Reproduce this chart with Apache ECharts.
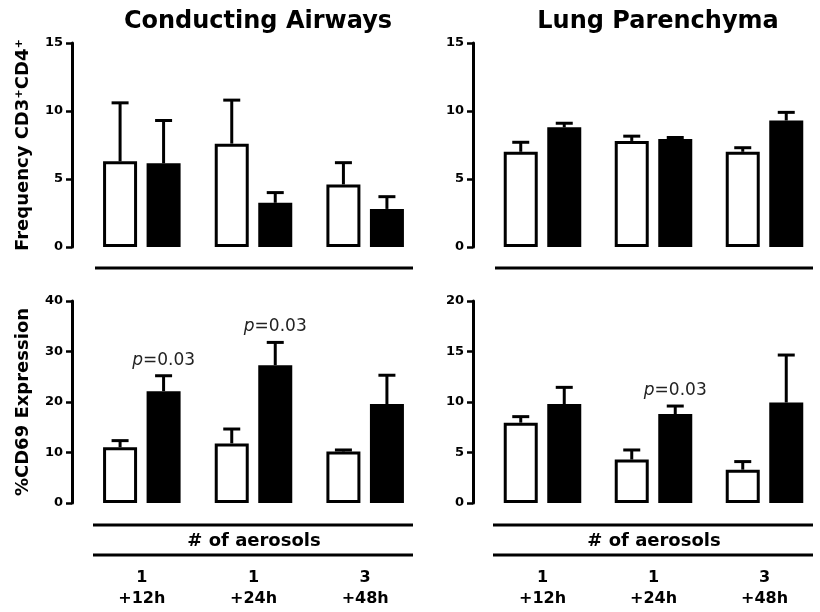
<!DOCTYPE html>
<html>
<head>
<meta charset="utf-8">
<script src="https://cdn.jsdelivr.net/npm/echarts@6/dist/echarts.min.js"></script>
<style>html,body{margin:0;padding:0;background:#fff}#c{width:820px;height:612px}</style>
</head>
<body>
<div id="c"></div>
<script>
// ---- data ----
const categories = ['1\n+12h', '1\n+24h', '3\n+48h'];
const panelTitles = ['Conducting Airways', 'Lung Parenchyma'];
const yNames = ['Frequency CD3\u207ACD4\u207A', '%CD69 Expression'];

const caFreqCtrl = [6.3, 7.6, 4.6];
const caFreqCtrlErr = [10.6, 10.8, 6.2];
const caFreqTrt = [6.15, 3.25, 2.8];
const caFreqTrtErr = [9.3, 4.0, 3.7];

const lpFreqCtrl = [7.0, 7.8, 7.0];
const lpFreqCtrlErr = [7.7, 8.15, 7.3];
const lpFreqTrt = [8.8, 7.95, 9.3];
const lpFreqTrtErr = [9.1, 8.05, 9.9];

const caCD69Ctrl = [11.05, 11.8, 10.2];
const caCD69CtrlErr = [12.35, 14.65, 10.5];
const caCD69Trt = [22.15, 27.3, 19.6];
const caCD69TrtErr = [25.2, 31.8, 25.3];
const caCD69TrtP = ['0.03', '0.03', ''];

const lpCD69Ctrl = [7.95, 4.3, 3.3];
const lpCD69CtrlErr = [8.55, 5.25, 4.1];
const lpCD69Trt = [9.8, 8.8, 9.95];
const lpCD69TrtErr = [11.45, 9.6, 14.65];
const lpCD69TrtP = ['', '0.03', ''];

const yMax = [15, 15, 40, 20];
const yInterval = [5, 5, 10, 5];
const xAxisTitle = '# of aerosols';

// ---- layout ----
const FONT = 'DejaVu Sans';
const grids = [
  {left: 86, top: 43, width: 335, height: 204},
  {left: 487, top: 43, width: 334, height: 204},
  {left: 86, top: 301, width: 335, height: 202},
  {left: 487, top: 301, width: 334, height: 202}
];
const OFF = 21.75;

const panels = [
  {ctrl: caFreqCtrl, ctrlErr: caFreqCtrlErr, trt: caFreqTrt, trtErr: caFreqTrtErr, p: null},
  {ctrl: lpFreqCtrl, ctrlErr: lpFreqCtrlErr, trt: lpFreqTrt, trtErr: lpFreqTrtErr, p: null},
  {ctrl: caCD69Ctrl, ctrlErr: caCD69CtrlErr, trt: caCD69Trt, trtErr: caCD69TrtErr, p: caCD69TrtP},
  {ctrl: lpCD69Ctrl, ctrlErr: lpCD69CtrlErr, trt: lpCD69Trt, trtErr: lpCD69TrtErr, p: lpCD69TrtP}
];

function errSeries(gi, vals, errs, pl, offset) {
  return {
    type: 'custom', xAxisIndex: gi, yAxisIndex: gi, z: 5, clip: false,
    data: vals.map((v, i) => [i, v, errs[i], pl ? pl[i] : '']),
    renderItem: function (params, api) {
      const i = api.value(0);
      const b = api.coord([i, api.value(1)]);
      const t = api.coord([i, api.value(2)]);
      const x = b[0] + offset;
      const children = [
        {type: 'line', shape: {x1: x, y1: b[1], x2: x, y2: t[1]}, style: {stroke: '#000', lineWidth: 3}},
        {type: 'line', shape: {x1: x - 8.5, y1: t[1], x2: x + 8.5, y2: t[1]}, style: {stroke: '#000', lineWidth: 3}}
      ];
      const p = pl ? pl[i] : '';
      if (p) {
        children.push({type: 'text', style: {
          text: '{i|p}{n|=' + p + '}', x: x, y: t[1] - 7, align: 'center', verticalAlign: 'bottom',
          rich: {
            i: {fontFamily: FONT, fontSize: 17, fontStyle: 'italic', fill: '#222'},
            n: {fontFamily: FONT, fontSize: 17, fill: '#222'}
          }
        }});
      }
      return {type: 'group', children: children};
    }
  };
}

const xAxes = [], yAxes = [], series = [];
grids.forEach((g, gi) => {
  const bottom = gi >= 2;
  xAxes.push({
    type: 'category', gridIndex: gi, data: categories,
    axisLine: {show: false}, axisTick: {show: false},
    axisLabel: {show: bottom, margin: 64, fontFamily: FONT, fontWeight: 'bold', fontSize: 16, lineHeight: 21, color: '#000'}
  });
  yAxes.push({
    type: 'value', gridIndex: gi, min: 0, max: yMax[gi], interval: yInterval[gi], offset: 14,
    name: (gi % 2 === 0) ? yNames[gi >> 1] : '', nameLocation: 'middle', nameGap: 40, nameRotate: 90,
    nameTextStyle: {fontFamily: FONT, fontWeight: 'bold', fontSize: 18, color: '#000'},
    axisLine: {show: true, lineStyle: {color: '#000', width: 3}},
    axisTick: {show: true, length: 6, lineStyle: {color: '#000', width: 2.5}},
    axisLabel: {fontFamily: FONT, fontWeight: 'bold', fontSize: 13, color: '#000', margin: 9},
    splitLine: {show: false}
  });
  const P = panels[gi];
  series.push({
    type: 'bar', xAxisIndex: gi, yAxisIndex: gi, data: P.ctrl, barWidth: 34, barGap: '28%',
    itemStyle: {color: '#fff', borderColor: '#000', borderWidth: 3}
  });
  series.push({
    type: 'bar', xAxisIndex: gi, yAxisIndex: gi, data: P.trt, barWidth: 34, barGap: '28%',
    itemStyle: {color: '#000', borderColor: '#000', borderWidth: 3}
  });
  series.push(errSeries(gi, P.ctrl, P.ctrlErr, null, -OFF));
  series.push(errSeries(gi, P.trt, P.trtErr, P.p, OFF));
});

const ruleStyle = {stroke: '#000', lineWidth: 3};
const graphic = [];
[[95, 413], [495, 813]].forEach(([x1, x2]) => {
  graphic.push({type: 'line', shape: {x1: x1, y1: 268, x2: x2, y2: 268}, style: ruleStyle});
  graphic.push({type: 'line', shape: {x1: x1 - 2, y1: 525, x2: x2, y2: 525}, style: ruleStyle});
  graphic.push({type: 'line', shape: {x1: x1 - 2, y1: 555, x2: x2, y2: 555}, style: ruleStyle});
  graphic.push({type: 'text', x: (x1 + x2) / 2, y: 541, style: {
    text: xAxisTitle, align: 'center', verticalAlign: 'middle',
    font: 'bold 18px "DejaVu Sans"', fill: '#000'}});
});

const chart = echarts.init(document.getElementById('c'));
chart.setOption({
  animation: false,
  backgroundColor: '#fff',
  title: [
    {text: panelTitles[0], left: 253, top: 5, textAlign: 'center', textStyle: {fontFamily: FONT, fontWeight: 'bold', fontSize: 24, color: '#000'}},
    {text: panelTitles[1], left: 653, top: 5, textAlign: 'center', textStyle: {fontFamily: FONT, fontWeight: 'bold', fontSize: 24, color: '#000'}}
  ],
  grid: grids,
  xAxis: xAxes,
  yAxis: yAxes,
  series: series,
  graphic: graphic
});
</script>
</body>
</html>
